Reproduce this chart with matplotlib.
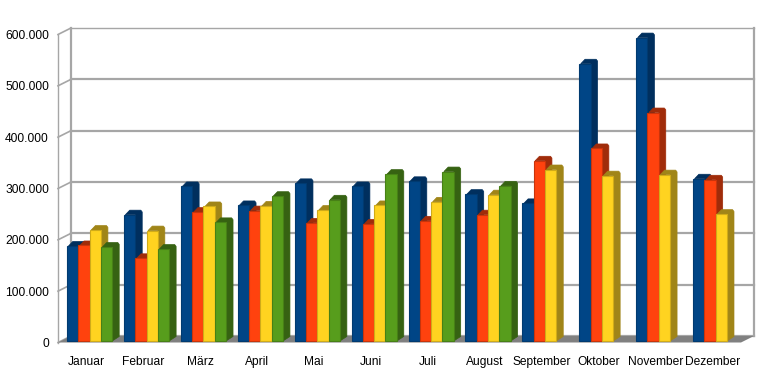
import matplotlib
matplotlib.use("Agg")
import matplotlib.pyplot as plt
import numpy as np
from matplotlib.patches import Polygon

plt.rcParams['font.family'] = ['Liberation Sans', 'DejaVu Sans']

months = ["Januar", "Februar", "März", "April", "Mai", "Juni", "Juli", "August",
          "September", "Oktober", "November", "Dezember"]
y_ticks = [0, 100000, 200000, 300000, 400000, 500000, 600000]
y_labels = ["0", "100.000", "200.000", "300.000", "400.000", "500.000", "600.000"]

blue = [188000, 249000, 304000, 267000, 310000, 304000, 314000, 289000, 271000, 543000, 594000, 319000]
orange = [189000, 164000, 254000, 257000, 233000, 231000, 237000, 249000, 354000, 378000, 448000, 317000]
yellow = [219000, 218000, 265000, 266000, 258000, 267000, 274000, 288000, 337000, 325000, 327000, 250000]
green = [186000, 182000, 234000, 285000, 278000, 328000, 333000, 305000]

series = [blue, orange, yellow, green]
front_colors = ["#004586", "#ff420e", "#ffd320", "#579d1c"]
side_colors = ["#002f5e", "#a02c0a", "#a08518", "#366212"]
edge_colors = ["#003a70", "#c9340b", "#d0ab18", "#478016"]
grey = "#a6a6a6"

fig = plt.figure(figsize=(7.72, 3.86), dpi=100)
ax = fig.add_axes([58 / 772, (386 - 342.5) / 386, 683 / 772, 308 / 386])
ax.set_xlim(0, 12)
ax.set_ylim(0, 600000)
ax.patch.set_visible(False)
for s in ax.spines.values():
    s.set_visible(False)

# pixel sizes in data units
px_x = 12 / 683
px_y = 600000 / 308
wall_dx = 13 * px_x
wall_dy = 6.5 * px_y

# floor
ax.add_patch(Polygon([(0, 0), (wall_dx, wall_dy), (12 + wall_dx, wall_dy), (12, 0)],
                     facecolor="#808080", edgecolor="none", clip_on=False, zorder=2))

# walls and grid
for t in y_ticks:
    ax.plot([0, wall_dx], [t, t + wall_dy], color=grey, lw=1.2, clip_on=False, zorder=1)
    lw = 1.0 if t == 600000 else 1.6
    ax.plot([wall_dx, 12 + wall_dx], [t + wall_dy, t + wall_dy], color=grey, lw=lw, clip_on=False, zorder=1)
ax.plot([0, 0], [0, 600000], color=grey, lw=1.0, clip_on=False, zorder=1)
ax.plot([wall_dx, wall_dx], [wall_dy, 600000 + wall_dy], color=grey, lw=1.6, clip_on=False, zorder=1)
ax.plot([12 + wall_dx, 12 + wall_dx], [wall_dy, 600000 + wall_dy], color=grey, lw=1.6, clip_on=False, zorder=1)

# bars
bar_w = 11.3 * px_x
start = 9 * px_x
base = 1.5 * px_y
side_dx = 7 * px_x
side_dy = 4.5 * px_y

z = 3
for i in range(len(months)):
    for j, values in enumerate(series):
        if i >= len(values):
            continue
        v = values[i]
        left = i + start + j * bar_w
        right = left + bar_w
        side = [(left + 1.5 * px_x, v), (left + 3 * px_x + side_dx * 0.4, v + side_dy),
                (right + side_dx * 0.8, v + side_dy), (right + side_dx, v + side_dy * 0.6),
                (right + side_dx, base + side_dy), (right, base), (right, v)]
        ax.add_patch(Polygon(side, facecolor=side_colors[j], edgecolor=side_colors[j], lw=0.5,
                             joinstyle="round", clip_on=False, zorder=z))
        ax.bar(left, v - base, width=bar_w, bottom=base, align="edge", color=front_colors[j],
               edgecolor=edge_colors[j], linewidth=0.8, zorder=z + 0.5, clip_on=False)
        z += 1

ax.set_xticks(np.arange(len(months)) + 0.5)
ax.set_xticklabels(months, fontsize=8.64, color="#000000")
ax.set_yticks(y_ticks)
ax.set_yticklabels(y_labels, fontsize=8.64, color="#000000")
ax.tick_params(axis="x", length=0, pad=9.7)
ax.tick_params(axis="y", length=0, pad=6.5)

fig.savefig("out.png", dpi=100, facecolor="white")
